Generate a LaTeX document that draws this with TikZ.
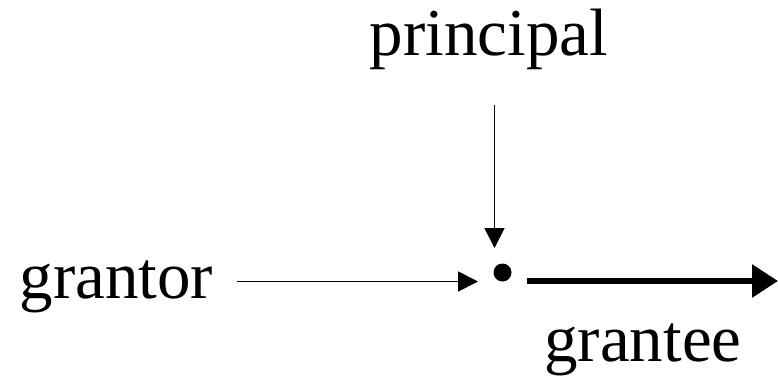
\documentclass[tikz,border=0pt]{standalone}
\usepackage{fontspec}
\setmainfont{Liberation Serif}
\usetikzlibrary{arrows.meta}
\begin{document}
\begin{tikzpicture}[x=1pt,y=-1pt,
  label/.style={inner sep=0pt, anchor=base, font=\fontsize{67}{80}\selectfont},
  thinarrow/.style={line width=1.8pt, -{Triangle[length=20pt,width=20pt]}},
  thickarrow/.style={line width=6pt, -{Triangle[length=26pt,width=32pt]}}]
\useasboundingbox (0,0) rectangle (778,376);
% labels
\node[label] (principal) at (489,55) {principal};
\node[label] (grantor) at (116.5,298) {grantor};
\node[label] (grantee) at (643,361) {grantee};
% the junction point
\node[circle, fill=black, inner sep=0pt, minimum size=18pt] (dot) at (502.5,272.5) {};
% connector ends
\coordinate (v0) at (494.5,105);
\coordinate (v1) at (494.5,248);
\coordinate (g0) at (237,281.5);
\coordinate (g1) at (478,281.5);
\coordinate (e0) at (527,281);
\coordinate (e1) at (778,281);
\draw[thinarrow] (v0) -- (v1);
\draw[thinarrow] (g0) -- (g1);
\draw[thickarrow] (e0) -- (e1);
\end{tikzpicture}
\end{document}
